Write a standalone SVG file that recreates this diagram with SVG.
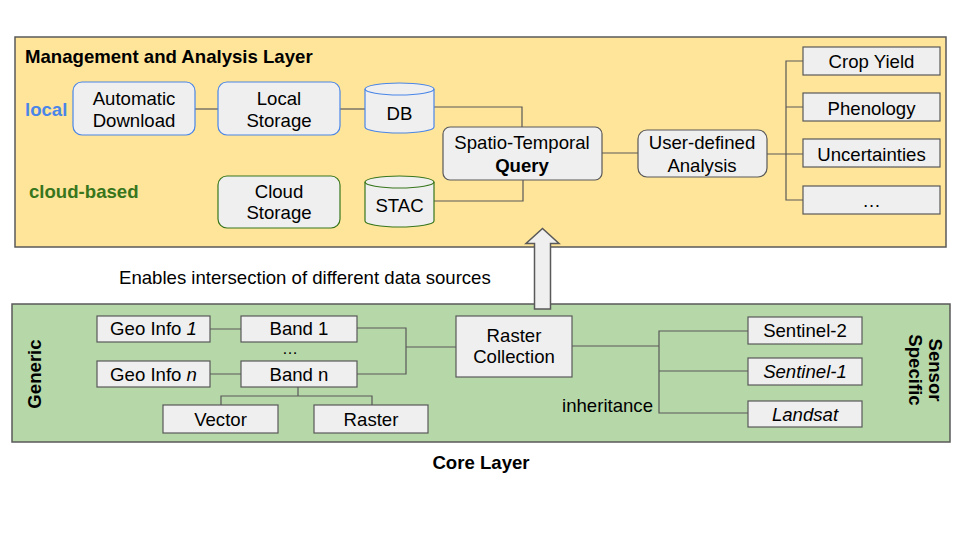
<svg xmlns="http://www.w3.org/2000/svg" width="960" height="540" viewBox="0 0 960 540">
<style>
text{font-family:"Liberation Sans",Arial,sans-serif;font-size:18.6px;fill:#000}
.c{text-anchor:middle}
.b{font-weight:bold}
.i{font-style:italic}
.box{fill:#efefef;stroke:#595959;stroke-width:1.2}
.blue{fill:#efefef;stroke:#4a86e8;stroke-width:1.2}
.green{fill:#efefef;stroke:#38761d;stroke-width:1.2}
.conn path{fill:none;stroke:#595959;stroke-width:1.2}
</style>
<rect width="960" height="540" fill="#ffffff"/>
<g id="management-layer">
<rect x="15" y="37" width="931" height="210" fill="#ffe599" stroke="#595959" stroke-width="1.5"/>
<text x="25" y="63" class="b">Management and Analysis Layer</text>
<text x="25" y="116" class="b" style="fill:#4a86e8">local</text>
<text x="29" y="198" class="b" style="fill:#38761d">cloud-based</text>
</g>
<g id="core-layer">
<rect x="12" y="304" width="938" height="138" fill="#b6d7a8" stroke="#595959" stroke-width="1.5"/>
<text transform="translate(41,374) rotate(-90)" class="c b">Generic</text>
<text transform="translate(929,370) rotate(90)" class="c b">Sensor</text>
<text transform="translate(909,370) rotate(90)" class="c b">Specific</text>
<text x="481" y="469" class="c b">Core Layer</text>
</g>
<g class="conn" id="connectors">
<path d="M195,109H218"/>
<path d="M340,109H365"/>
<path d="M434,107H522V127"/>
<path d="M434,201H523V180"/>
<path d="M602,153H638"/>
<path d="M767,154H803"/>
<path d="M803,61H786V200H803M786,107H803"/>
<path d="M210,329H241M210,374H241"/>
<path d="M357,328H406V374H357M406,347H456"/>
<path d="M298,387V396M221,405V396H372V405"/>
<path d="M572,346H659M748,331H659V413H748M659,371H748"/>
</g>
<g id="auto-download">
<rect x="73" y="82" width="122" height="53" rx="9" class="blue"/>
<text x="134" y="105" class="c">Automatic</text>
<text x="134" y="127" class="c">Download</text>
</g>
<g id="local-storage">
<rect x="218" y="82" width="122" height="53" rx="9" class="blue"/>
<text x="279" y="105" class="c">Local</text>
<text x="279" y="127" class="c">Storage</text>
</g>
<g id="db">
<path d="M365,89V127A34.5,6 0 0 0 434,127V89A34.5,6 0 0 0 365,89Z" class="blue"/>
<path d="M365,89A34.5,6 0 0 0 434,89" class="blue" style="fill:none"/>
<text x="399.5" y="120" class="c">DB</text>
</g>
<g id="cloud-storage">
<rect x="218" y="176" width="122" height="52" rx="9" class="green"/>
<text x="279" y="198" class="c">Cloud</text>
<text x="279" y="219" class="c">Storage</text>
</g>
<g id="stac">
<path d="M365,182V221A34.5,6 0 0 0 434,221V182A34.5,6 0 0 0 365,182Z" class="green"/>
<path d="M365,182A34.5,6 0 0 0 434,182" class="green" style="fill:none"/>
<text x="399.5" y="212" class="c">STAC</text>
</g>
<g id="query">
<rect x="443" y="127" width="159" height="53" rx="7" class="box"/>
<text x="522" y="149" class="c">Spatio-Temporal</text>
<text x="522" y="172" class="c b">Query</text>
</g>
<g id="user-analysis">
<rect x="638" y="130" width="129" height="47" rx="9" class="box"/>
<text x="702" y="149" class="c">User-defined</text>
<text x="702" y="172" class="c">Analysis</text>
</g>
<g id="crop-yield">
<rect x="803" y="47" width="137" height="28" class="box"/>
<text x="871.5" y="68" class="c">Crop Yield</text>
</g>
<g id="phenology">
<rect x="803" y="93" width="137" height="28" class="box"/>
<text x="871.5" y="115" class="c">Phenology</text>
</g>
<g id="uncertainties">
<rect x="803" y="139" width="137" height="28" class="box"/>
<text x="871.5" y="161" class="c">Uncertainties</text>
</g>
<g id="more-analysis">
<rect x="803" y="186" width="137" height="28" class="box"/>
<text x="871.5" y="207" class="c">…</text>
</g>
<g id="up-arrow">
<path d="M534.5,309V243.5H526L542.5,228.5L559,243.5H550.5V309Z" fill="#efefef" stroke="#595959" stroke-width="1.5" stroke-linejoin="miter"/>
</g>
<text x="119" y="284" id="enables-label">Enables intersection of different data sources</text>
<g id="geo-info-1">
<rect x="97" y="316" width="113" height="26" class="box"/>
<text x="153.5" y="335" class="c">Geo Info <tspan class="i">1</tspan></text>
</g>
<g id="band-1">
<rect x="241" y="316" width="116" height="26" class="box"/>
<text x="299" y="335" class="c">Band 1</text>
</g>
<text x="290" y="354" class="c" style="font-size:16px">…</text>
<g id="geo-info-n">
<rect x="97" y="361" width="113" height="26" class="box"/>
<text x="153.5" y="381" class="c">Geo Info <tspan class="i">n</tspan></text>
</g>
<g id="band-n">
<rect x="241" y="361" width="116" height="26" class="box"/>
<text x="299" y="381" class="c">Band n</text>
</g>
<g id="vector">
<rect x="163" y="405" width="115" height="28" class="box"/>
<text x="220.5" y="426" class="c">Vector</text>
</g>
<g id="raster">
<rect x="314" y="405" width="114" height="28" class="box"/>
<text x="371" y="426" class="c">Raster</text>
</g>
<g id="raster-collection">
<rect x="456" y="316" width="116" height="61" class="box"/>
<text x="514" y="342" class="c">Raster</text>
<text x="514" y="363" class="c">Collection</text>
</g>
<g id="sentinel-2">
<rect x="748" y="317" width="114" height="27" class="box"/>
<text x="805" y="337" class="c">Sentinel-2</text>
</g>
<g id="sentinel-1">
<rect x="748" y="358" width="114" height="27" class="box"/>
<text x="805" y="378" class="c i">Sentinel-1</text>
</g>
<g id="landsat">
<rect x="748" y="401" width="114" height="26" class="box"/>
<text x="805" y="421" class="c i">Landsat</text>
</g>
<text x="653" y="412" text-anchor="end" id="inheritance-label">inheritance</text>
</svg>
